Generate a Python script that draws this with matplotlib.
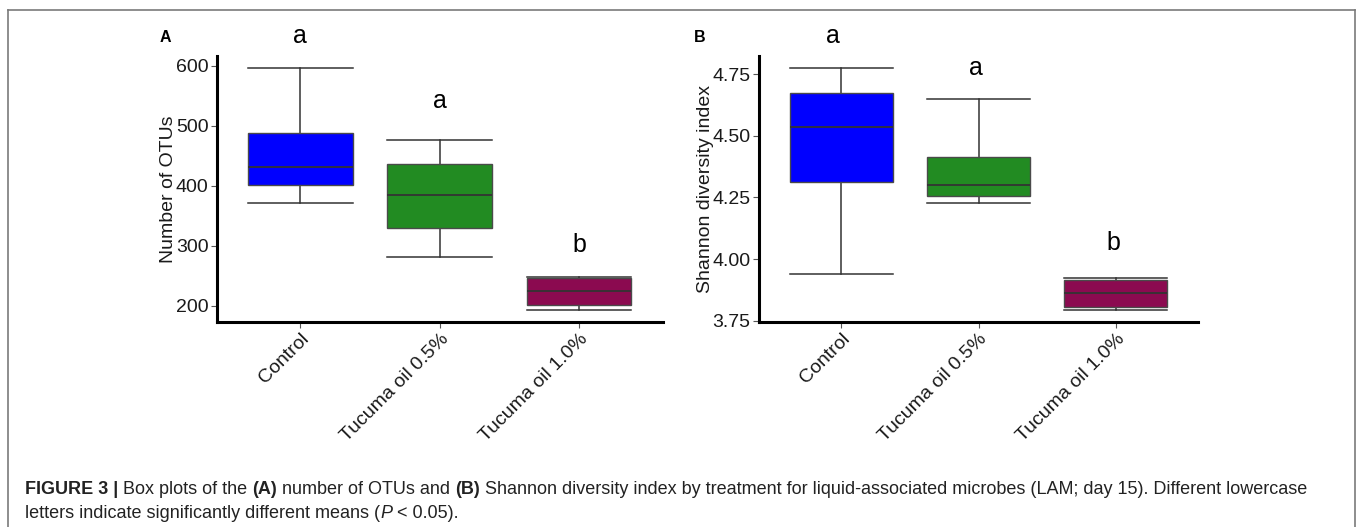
import matplotlib
matplotlib.use("Agg")
import matplotlib.pyplot as plt
from matplotlib.lines import Line2D
from matplotlib.ticker import FormatStrFormatter

plt.rcParams['font.family'] = ['Liberation Sans', 'DejaVu Sans']

# ---------------------------------------------------------------- data
grupos = ["Control", "Tucuma oil 0.5%", "Tucuma oil 1.0%"]
colores = ["#0000FF", "#228B22", "#8B0A50"]

# panel A: number of OTUs  (lower whisker, Q1, median, Q3, upper whisker)
otus_lo = [371, 282, 193]
otus_q1 = [401, 330, 201]
otus_med = [431, 385, 225]
otus_q3 = [487, 436, 247]
otus_hi = [596, 476, 248]
otus_letras = ["a", "a", "b"]
otus_letras_y = [637, 529, 289]

# panel B: Shannon diversity index
shan_lo = [3.938, 4.229, 3.794]
shan_q1 = [4.311, 4.254, 3.807]
shan_med = [4.537, 4.299, 3.861]
shan_q3 = [4.673, 4.414, 3.915]
shan_hi = [4.774, 4.649, 3.925]
shan_letras = ["a", "a", "b"]
shan_letras_y = [4.877, 4.747, 4.035]

caption1 = [("FIGURE 3 | ", "bold", "normal"), ("Box plots of the ", "normal", "normal"),
            ("(A)", "bold", "normal"), (" number of OTUs and ", "normal", "normal"),
            ("(B)", "bold", "normal"),
            (" Shannon diversity index by treatment for liquid-associated microbes (LAM; day 15). Different lowercase",
             "normal", "normal")]
caption2 = [("letters indicate significantly different means (", "normal", "normal"),
            ("P", "normal", "italic"), (" < 0.05).", "normal", "normal")]

W, H = 1358, 527
fig = plt.figure(figsize=(W / 100, H / 100), dpi=100)


def caja(ax, lo, q1, med, q3, hi, ylim, yticks, ylabel, lab_x, letras, letras_y, letra_dx, panel, panel_x):
    stats = []
    for i in range(len(grupos)):
        stats.append(dict(whislo=lo[i], q1=q1[i], med=med[i], q3=q3[i], whishi=hi[i], fliers=[]))
    b = ax.bxp(stats, positions=range(len(grupos)), widths=0.75, capwidths=0.75, patch_artist=True,
               showfliers=False,
               boxprops=dict(edgecolor="#4a4a4a", linewidth=1.0),
               medianprops=dict(color="#333333", linewidth=1.3),
               whiskerprops=dict(color="#333333", linewidth=1.1),
               capprops=dict(color="#333333", linewidth=1.1))
    for p, c in zip(b["boxes"], colores):
        p.set_facecolor(c)
        p.set_zorder(3)
    for m in b["medians"]:
        m.set_zorder(4)
    ax.set_xlim(-0.6, 2.6)
    ax.set_ylim(ylim)
    ax.set_yticks(yticks)
    ax.set_xticks(range(len(grupos)))
    ax.set_xticklabels(grupos, rotation=45, ha="right", va="top", rotation_mode="anchor", fontsize=14,
                       color="#1a1a1a")
    ax.tick_params(axis="both", length=4, width=0.8, color="#555555", labelsize=14, labelcolor="#1a1a1a",
                   pad=2)
    for s in ["top", "right"]:
        ax.spines[s].set_visible(False)
    for s in ["left", "bottom"]:
        ax.spines[s].set_linewidth(2.2)
        ax.spines[s].set_color("black")
    ax.set_ylabel(ylabel, fontsize=14, color="#1a1a1a")
    ax.yaxis.set_label_coords(lab_x, 0.5)
    for i in range(len(grupos)):
        ax.text(i + letra_dx[i], letras_y[i], letras[i], fontsize=18, ha="center", va="baseline",
                clip_on=False)
    fig.text(panel_x, 1 - 42 / H, panel, fontsize=11.5, fontweight="bold", va="baseline")


axA = fig.add_axes([216.7 / W, 1 - 322 / H, 446 / W, 266 / H])
caja(axA, otus_lo, otus_q1, otus_med, otus_q3, otus_hi, (173, 616), [200, 300, 400, 500, 600],
     "Number of OTUs", -0.088, otus_letras, otus_letras_y, [0, 0, 0], "A", 160 / W)

axB = fig.add_axes([759 / W, 1 - 322 / H, 439 / W, 266 / H])
caja(axB, shan_lo, shan_q1, shan_med, shan_q3, shan_hi, (3.745, 4.823), [3.75, 4.00, 4.25, 4.50, 4.75],
     "Shannon diversity index", -0.102, shan_letras, shan_letras_y, [-0.06, -0.02, -0.015], "B", 694 / W)
axB.yaxis.set_major_formatter(FormatStrFormatter("%.2f"))

# ---------------------------------------------------------------- marco gris
gris = "#7a7a7a"
fig.add_artist(Line2D([8 / W, 1355 / W], [1 - 10 / H, 1 - 10 / H], color=gris, lw=1.2))
fig.add_artist(Line2D([8 / W, 8 / W], [0, 1 - 10 / H], color=gris, lw=1.2))
fig.add_artist(Line2D([1355 / W, 1355 / W], [0, 1 - 10 / H], color=gris, lw=1.2))

# ---------------------------------------------------------------- caption con partes en negrita
renderer = fig.canvas.get_renderer()


def escribir(runs, x, y, size):
    for txt, peso, estilo in runs:
        t = fig.text(x, y, txt, fontsize=size, fontweight=peso, fontstyle=estilo, va="baseline",
                     color="#222222")
        x += t.get_window_extent(renderer).width / W


escribir(caption1, 25 / W, 1 - 494 / H, 12.95)
escribir(caption2, 25 / W, 1 - 518 / H, 12.95)

fig.savefig("out.png", dpi=100)
